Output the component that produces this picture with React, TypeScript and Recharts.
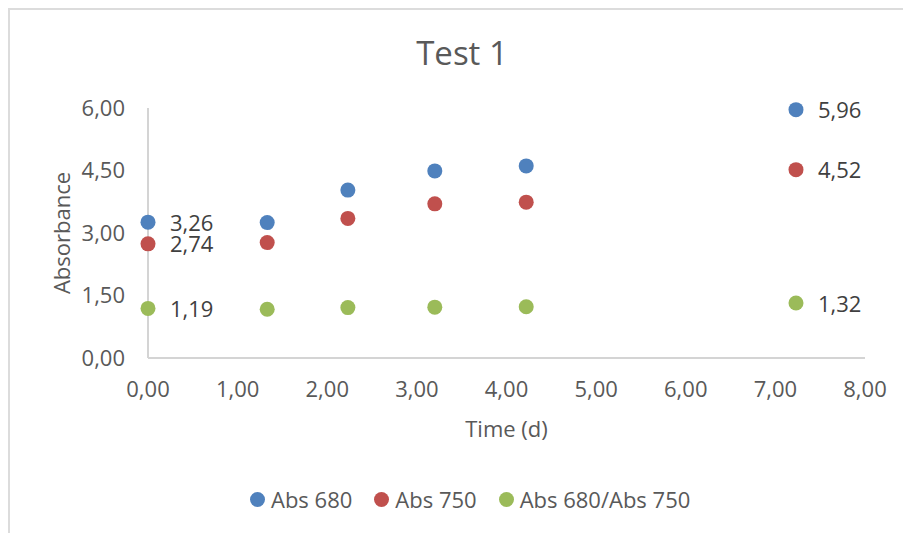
import React from 'react';
import {
  ScatterChart,
  Scatter,
  XAxis,
  YAxis,
  ZAxis,
  Legend,
  LabelList,
} from 'recharts';

// Sampling times (days) and measured absorbances
const times = [0, 1.33, 2.23, 3.2, 4.22, 7.23];
const abs680 = [3.26, 3.25, 4.03, 4.49, 4.61, 5.96];
const abs750 = [2.74, 2.77, 3.35, 3.7, 3.74, 4.52];
const ratio = [1.19, 1.17, 1.21, 1.22, 1.23, 1.32];

const xTicks = [0, 1, 2, 3, 4, 5, 6, 7, 8];
const yTicks = [0, 1.5, 3, 4.5, 6];

// Only the first and last points carry a value label
const labelledIdx = [0, times.length - 1];

const FONT = '"Open Sans", sans-serif';
const AXIS_GRAY = '#d4d4d4';
const TEXT_GRAY = '#595959';
const LABEL_GRAY = '#404040';

const fmt = (v: number) => v.toFixed(2).replace('.', ',');

const toPoints = (ys: number[]) => times.map((x, i) => ({ x, y: ys[i] }));

const series = [
  { name: 'Abs 680', color: '#4f81bd', data: toPoints(abs680) },
  { name: 'Abs 750', color: '#c0504d', data: toPoints(abs750) },
  { name: 'Abs 680/Abs 750', color: '#9bbb59', data: toPoints(ratio) },
];
const seriesOrder = series.map((s) => s.name);

const W = 893;
const H = 523;

const dot = (color: string) => (p: any) => (
  <circle cx={p.cx} cy={p.cy} r={7.5} fill={color} />
);

const valueLabel = (p: any) => {
  if (!labelledIdx.includes(p.index)) return null;
  const vb = p.viewBox && p.viewBox.width !== undefined ? p.viewBox : p;
  const cx = vb.x + vb.width / 2;
  const cy = vb.y + vb.height / 2;
  return (
    <text
      x={cx + 22}
      y={cy + 8.5}
      fill={LABEL_GRAY}
      fontSize={22}
      fontFamily={FONT}
      textAnchor="start"
    >
      {fmt(Number(p.value))}
    </text>
  );
};

const yTitle = (p: any) => {
  const vb = p.viewBox || {};
  const x = vb.x - 18;
  const y = vb.y + vb.height / 2;
  return (
    <text
      x={x}
      y={y}
      transform={`rotate(-90, ${x}, ${y})`}
      textAnchor="middle"
      fill={TEXT_GRAY}
      fontSize={22}
      fontFamily={FONT}
    >
      Absorbance
    </text>
  );
};

const legendContent = (props: any) => {
  const payload = [...(props.payload || [])].sort(
    (a: any, b: any) => seriesOrder.indexOf(a.value) - seriesOrder.indexOf(b.value)
  );
  return (
    <div
      style={{
        display: 'flex',
        alignItems: 'center',
        paddingLeft: 240,
        gap: 22,
        fontFamily: FONT,
        fontSize: 22,
        lineHeight: '22px',
        color: TEXT_GRAY,
      }}
    >
      {payload.map((e: any) => (
        <div key={e.value} style={{ display: 'flex', alignItems: 'center' }}>
          <svg width={15} height={15} style={{ marginRight: 6 }}>
            <circle cx={7.5} cy={7.5} r={7.5} fill={e.color} />
          </svg>
          <span>{e.value}</span>
        </div>
      ))}
    </div>
  );
};

export default function App() {
  return (
    <div
      style={{
        position: 'fixed',
        left: 8,
        top: 8,
        width: W,
        height: H,
        borderLeft: '2px solid #dcdcdc',
        borderTop: '2px solid #dcdcdc',
        overflow: 'hidden',
        background: '#fff',
      }}
    >
      <ScatterChart
        width={W}
        height={H}
        margin={{ top: 98, right: 38, bottom: 95, left: 78 }}
      >
        <XAxis
          type="number"
          dataKey="x"
          domain={[0, 8]}
          ticks={xTicks}
          interval={0}
          tickFormatter={fmt}
          tickLine={false}
          tickSize={0}
          tickMargin={23.4}
          height={80}
          stroke={AXIS_GRAY}
          strokeWidth={2}
          tick={{ fill: TEXT_GRAY, fontSize: 22, fontFamily: FONT }}
          label={{
            value: 'Time (d)',
            position: 'insideBottom',
            offset: 1.5,
            fill: TEXT_GRAY,
            fontSize: 22,
            fontFamily: FONT,
          }}
        />
        <YAxis
          type="number"
          dataKey="y"
          domain={[0, 6]}
          ticks={yTicks}
          interval={0}
          tickFormatter={fmt}
          tickLine={false}
          tickSize={0}
          tickMargin={23}
          width={60}
          stroke={AXIS_GRAY}
          strokeWidth={2}
          tick={{ fill: TEXT_GRAY, fontSize: 22, fontFamily: FONT }}
          label={{ content: yTitle }}
        />
        <ZAxis range={[177, 177]} />
        <Legend
          layout="horizontal"
          verticalAlign="middle"
          align="center"
          wrapperStyle={{ top: 478, left: 0, width: W }}
          content={legendContent}
        />
        {series.map((s) => (
          <Scatter
            key={s.name}
            name={s.name}
            data={s.data}
            fill={s.color}
            shape={dot(s.color)}
            isAnimationActive={false}
          >
            <LabelList dataKey="y" content={valueLabel} />
          </Scatter>
        ))}
      </ScatterChart>
      <svg
        width={W}
        height={H}
        style={{ position: 'absolute', left: 0, top: 0, pointerEvents: 'none' }}
      >
        <text
          x={452}
          y={55}
          textAnchor="middle"
          fill={TEXT_GRAY}
          fontSize={33}
          fontFamily={FONT}
        >
          Test 1
        </text>
      </svg>
    </div>
  );
}
